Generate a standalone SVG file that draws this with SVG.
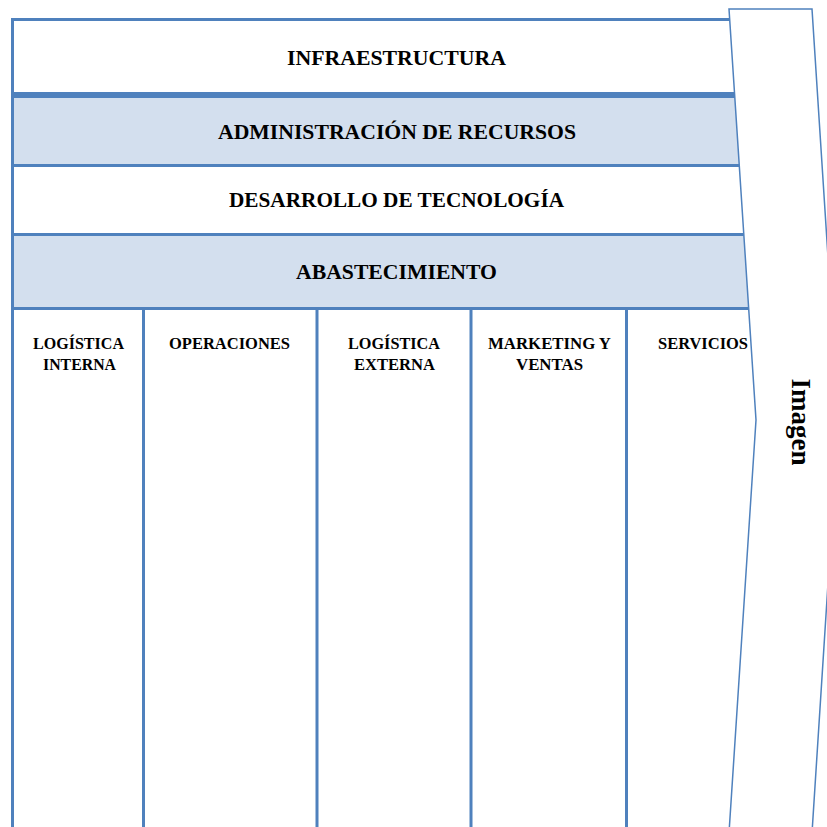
<svg xmlns="http://www.w3.org/2000/svg" width="827" height="827" viewBox="0 0 827 827">
<style>
.ln{stroke:#4F81BD;fill:none}
.band{fill:#D3DFEE}
.h{font-family:"Liberation Serif","Times New Roman",serif;font-weight:bold;font-size:22px;fill:#000;text-anchor:middle}
.c{font-family:"Liberation Serif","Times New Roman",serif;font-weight:bold;font-size:17px;fill:#000;text-anchor:middle}
</style>
<rect width="827" height="827" fill="#fff"/>
<g id="infraestructura">
<rect x="12.5" y="19.5" width="748" height="75" fill="#fff"/>
<text class="h" x="396.5" y="65" textLength="219" lengthAdjust="spacingAndGlyphs">INFRAESTRUCTURA</text>
</g>
<g id="administracion">
<rect class="band" x="12.5" y="95" width="748" height="70"/>
<text class="h" x="397" y="138.5" textLength="358" lengthAdjust="spacingAndGlyphs">ADMINISTRACIÓN DE RECURSOS</text>
</g>
<g id="desarrollo">
<text class="h" x="396.5" y="207" textLength="335" lengthAdjust="spacingAndGlyphs">DESARROLLO DE TECNOLOGÍA</text>
</g>
<g id="abastecimiento">
<rect class="band" x="12.5" y="234.5" width="748" height="74"/>
<text class="h" x="396.5" y="279" textLength="201" lengthAdjust="spacingAndGlyphs">ABASTECIMIENTO</text>
</g>
<g id="logistica-interna">
<text class="c" x="78.5" y="349" textLength="91" lengthAdjust="spacingAndGlyphs">LOGÍSTICA</text>
<text class="c" x="79.5" y="370" textLength="73" lengthAdjust="spacingAndGlyphs">INTERNA</text>
</g>
<g id="operaciones">
<text class="c" x="229.5" y="349" textLength="121" lengthAdjust="spacingAndGlyphs">OPERACIONES</text>
</g>
<g id="logistica-externa">
<text class="c" x="394" y="349" textLength="92" lengthAdjust="spacingAndGlyphs">LOGÍSTICA</text>
<text class="c" x="394.5" y="370" textLength="81" lengthAdjust="spacingAndGlyphs">EXTERNA</text>
</g>
<g id="marketing-ventas">
<text class="c" x="549.5" y="349" textLength="123" lengthAdjust="spacingAndGlyphs">MARKETING Y</text>
<text class="c" x="549.5" y="370" textLength="67" lengthAdjust="spacingAndGlyphs">VENTAS</text>
</g>
<g id="servicios">
<text class="c" x="703" y="349" textLength="90" lengthAdjust="spacingAndGlyphs">SERVICIOS</text>
</g>
<g id="lines">
<line class="ln" x1="12.5" y1="18" x2="12.5" y2="827" stroke-width="3"/>
<line class="ln" x1="11" y1="19.5" x2="760" y2="19.5" stroke-width="3"/>
<line class="ln" x1="11" y1="95" x2="760" y2="95" stroke-width="6"/>
<line class="ln" x1="11" y1="165.5" x2="760" y2="165.5" stroke-width="3"/>
<line class="ln" x1="11" y1="234.5" x2="760" y2="234.5" stroke-width="3"/>
<line class="ln" x1="11" y1="308.5" x2="760" y2="308.5" stroke-width="3"/>
<line class="ln" x1="143.5" y1="308" x2="143.5" y2="827" stroke-width="3"/>
<line class="ln" x1="317" y1="308" x2="317" y2="827" stroke-width="3"/>
<line class="ln" x1="471" y1="308" x2="471" y2="827" stroke-width="3"/>
<line class="ln" x1="626.5" y1="308" x2="626.5" y2="827" stroke-width="3"/>
</g>
<g id="imagen">
<polygon points="729,9 812,9 838.5,420 812,833 729,833 756,420" fill="#fff" stroke="#4F81BD" stroke-width="1.5"/>
<text transform="translate(792,422) rotate(90)" x="0" y="0" font-family="Liberation Serif, Times New Roman, serif" font-weight="bold" font-size="27" text-anchor="middle" fill="#000">Imagen</text>
</g>
</svg>
